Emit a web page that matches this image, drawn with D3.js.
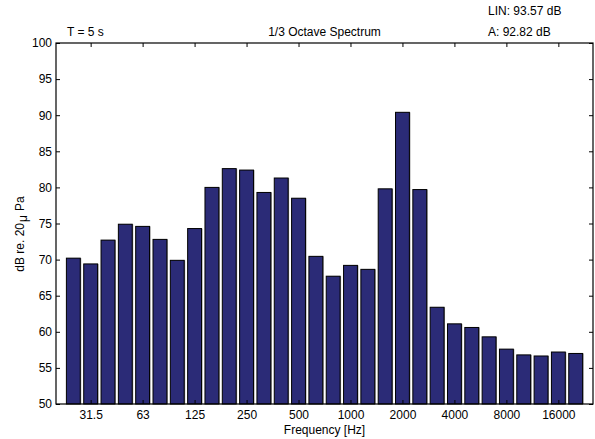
<!DOCTYPE html>
<html>
<head>
<meta charset="utf-8">
<script src="https://cdn.jsdelivr.net/npm/d3@7/dist/d3.min.js"></script>
<style>
    body { margin: 0; background: #fff; }
    text { font-family: "Liberation Sans", Arial, sans-serif; fill: #000; }
    .tick text { font-size: 12px; fill: #000; }
</style>
</head>
<body>
<div id="chart"></div>
<script>
    // 1/3 octave band centre frequencies
    var bands = ['25', '31.5', '40', '50', '63', '80', '100', '125', '160', '200',
        '250', '315', '400', '500', '630', '800', '1000', '1250', '1600', '2000',
        '2500', '3150', '4000', '5000', '6300', '8000', '10000', '12500', '16000', '20000'];

    // band levels, dB
    var levels = [70.2, 69.4, 72.7, 74.9, 74.6, 72.8, 69.9, 74.3, 80.0, 82.6,
        82.4, 79.3, 81.3, 78.5, 70.45, 67.7, 69.2, 68.65, 79.8, 90.4,
        79.7, 63.4, 61.1, 60.6, 59.3, 57.6, 56.8, 56.65, 57.2, 57.0];

    var labeledBands = ['31.5', '63', '125', '250', '500', '1000', '2000', '4000', '8000', '16000'];
    var yTicks = [50, 55, 60, 65, 70, 75, 80, 85, 90, 95, 100];

    var width = 595, height = 439;
    var margin = {top: 43, right: 2, bottom: 35, left: 56};

    var svg = d3.select('#chart')
        .append('svg')
        .attr('width', width)
        .attr('height', height);

    var x = d3.scaleLinear()
        .domain([0, bands.length + 1])
        .range([margin.left, width - margin.right]);

    var y = d3.scaleLinear()
        .domain([50, 100])
        .range([height - margin.bottom, margin.top]);

    var step = x(1) - x(0);
    var barW = step * 0.8;

    var data = bands.map(function (b, i) {
        return {band: b, pos: i + 1, value: levels[i]};
    });

    // grey edge on the right of each bar
    svg.append('g').selectAll('rect')
        .data(data)
        .enter()
        .append('rect')
        .attr('x', function (d) { return x(d.pos) - barW / 2 + 1; })
        .attr('y', function (d) { return y(d.value); })
        .attr('width', barW)
        .attr('height', function (d) { return y(50) - y(d.value); })
        .attr('fill', '#8a8a8a');

    svg.append('g').selectAll('rect')
        .data(data)
        .enter()
        .append('rect')
        .attr('x', function (d) { return x(d.pos) - barW / 2; })
        .attr('y', function (d) { return y(d.value); })
        .attr('width', barW)
        .attr('height', function (d) { return y(50) - y(d.value); })
        .attr('fill', '#2b2b77')
        .attr('stroke', '#000')
        .attr('stroke-width', 1);

    var xTickPos = labeledBands.map(function (b) { return bands.indexOf(b) + 1; });

    var axBottom = svg.append('g')
        .attr('transform', 'translate(0,' + y(50) + ')')
        .call(d3.axisBottom(x)
            .tickValues(xTickPos)
            .tickFormat(function (p) { return bands[p - 1]; })
            .tickSize(-4)
            .tickPadding(5));

    var axTop = svg.append('g')
        .attr('transform', 'translate(0,' + y(100) + ')')
        .call(d3.axisTop(x)
            .tickValues(xTickPos)
            .tickFormat('')
            .tickSize(-4));

    var axLeft = svg.append('g')
        .attr('transform', 'translate(' + x(0) + ',0)')
        .call(d3.axisLeft(y)
            .tickValues(yTicks)
            .tickSize(-4)
            .tickPadding(4));

    var axRight = svg.append('g')
        .attr('transform', 'translate(' + x(bands.length + 1) + ',0)')
        .call(d3.axisRight(y)
            .tickValues(yTicks)
            .tickFormat('')
            .tickSize(-4));

    [axBottom, axTop, axLeft, axRight].forEach(function (g) {
        g.select('.domain').remove();
        g.selectAll('.tick line').attr('stroke', '#000');
    });
    axBottom.selectAll('.tick text').attr('dy', '0.85em');

    // frame
    svg.append('rect')
        .attr('x', x(0))
        .attr('y', y(100))
        .attr('width', x(bands.length + 1) - x(0))
        .attr('height', y(50) - y(100))
        .attr('fill', 'none')
        .attr('stroke', '#000')
        .attr('stroke-width', 1.2);

    svg.append('text')
        .attr('x', 67)
        .attr('y', 36)
        .attr('font-size', 12)
        .text('T = 5 s');

    svg.append('text')
        .attr('x', (x(0) + x(bands.length + 1)) / 2)
        .attr('y', 36)
        .attr('font-size', 12)
        .attr('text-anchor', 'middle')
        .text('1/3 Octave Spectrum');

    svg.append('text')
        .attr('x', 488)
        .attr('y', 15)
        .attr('font-size', 12)
        .text('LIN: 93.57 dB');

    svg.append('text')
        .attr('x', 488)
        .attr('y', 36)
        .attr('font-size', 12)
        .text('A: 92.82 dB');

    svg.append('text')
        .attr('x', (x(0) + x(bands.length + 1)) / 2)
        .attr('y', 434)
        .attr('font-size', 12)
        .attr('text-anchor', 'middle')
        .text('Frequency [Hz]');

    var ylab = svg.append('text')
        .attr('transform', 'translate(24,' + 234 + ') rotate(-90)')
        .attr('font-size', 12)
        .attr('text-anchor', 'middle');
    ylab.append('tspan').text('dB re. 20');
    ylab.append('tspan').attr('dx', 1).attr('dy', 3).text('\u03bc');
    ylab.append('tspan').attr('dx', 4).attr('dy', -3).text('Pa');
</script>
</body>
</html>
